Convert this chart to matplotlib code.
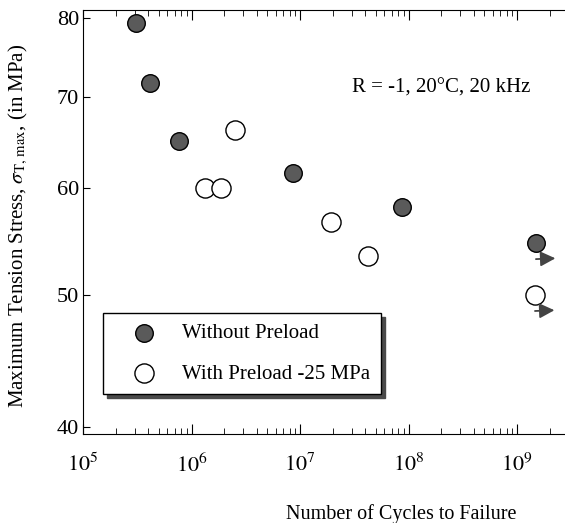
import matplotlib
matplotlib.use("Agg")
import matplotlib.pyplot as plt
from matplotlib.ticker import FixedLocator, LogLocator, NullFormatter, NullLocator
from matplotlib.transforms import offset_copy

# data
cycles_no_preload = [3.1e5, 4.1e5, 7.7e5, 8.6e6, 8.7e7, 1.5e9]
stress_no_preload = [79.3, 71.7, 64.9, 61.5, 58.1, 54.6]

cycles_preload = [2.5e6, 1.33e6, 1.87e6, 1.93e7, 4.2e7, 1.47e9]
stress_preload = [66.2, 60.0, 60.0, 56.6, 53.4, 50.0]

# runouts (no failure) marked with arrows
runout_cycles = [1.5e9, 1.47e9]
runout_stress = [54.6, 50.0]

y_ticks = [40, 50, 60, 70, 80]
x_ticks = [1e5, 1e6, 1e7, 1e8, 1e9]
x_tick_labels = ["$10^{5}$", "$10^{6}$", "$10^{7}$", "$10^{8}$", "$10^{9}$"]

plt.rcParams["font.family"] = ["Liberation Serif", "DejaVu Serif"]
plt.rcParams["mathtext.fontset"] = "stix"

fig = plt.figure(figsize=(5.65, 5.23), dpi=100)
ax = fig.add_axes([0.147, 0.170, 0.853, 0.811])

ax.scatter(cycles_no_preload, stress_no_preload, s=160, facecolor="#5a5a5a",
           edgecolor="black", linewidth=1.0, zorder=3, label="Without Preload")
ax.scatter(cycles_preload, stress_preload, s=190, facecolor="white",
           edgecolor="black", linewidth=1.0, zorder=3, label="With Preload -25 MPa")

# runout arrows
for cx, sy in zip(runout_cycles, runout_stress):
    tail = offset_copy(ax.transData, fig=fig, x=-3, y=-16, units="dots")
    head = offset_copy(ax.transData, fig=fig, x=22, y=-15, units="dots")
    ax.annotate("", xy=(cx, sy), xycoords=head, xytext=(cx, sy), textcoords=tail,
                arrowprops=dict(arrowstyle="-|>,head_length=0.9,head_width=0.45",
                                color="#444444", lw=1.3))

ax.set_xscale("log")
ax.set_yscale("log")
ax.set_xlim(1e5, 10 ** 9.442)
ax.set_ylim(39.5, 81.1)

ax.xaxis.set_major_locator(FixedLocator(x_ticks))
ax.set_xticklabels(x_tick_labels, fontsize=16)
ax.xaxis.set_minor_locator(LogLocator(base=10, subs=range(2, 10)))
ax.xaxis.set_minor_formatter(NullFormatter())

ax.yaxis.set_major_locator(FixedLocator(y_ticks))
ax.set_yticklabels([str(v) for v in y_ticks], fontsize=16)
ax.yaxis.set_minor_locator(NullLocator())

ax.tick_params(axis="x", which="both", direction="in", top=True, pad=14)
ax.tick_params(axis="x", which="major", length=7)
ax.tick_params(axis="x", which="minor", length=4)
ax.tick_params(axis="y", which="major", direction="in", length=5, pad=3)
ax.spines["right"].set_visible(False)

ax.text(0.558, 0.805, "R = -1, 20°C, 20 kHz", transform=ax.transAxes, fontsize=15)

ax.set_xlabel("Number of Cycles to Failure", fontsize=14.5)
ax.xaxis.set_label_coords(0.66, -0.165)
ax.set_ylabel(r"Maximum Tension Stress, $\sigma_{\mathrm{T,\,max}}$, (in MPa)", fontsize=15)
ax.yaxis.set_label_coords(-0.11, 0.49)

leg = ax.legend(loc="upper left", bbox_to_anchor=(0.041, 0.285), borderaxespad=0,
                fontsize=15, frameon=True, fancybox=False,
                shadow={"color": "#4a4a4a", "alpha": 1.0, "ox": 3, "oy": -3},
                labelspacing=1.0, handletextpad=0.3, borderpad=0.5,
                handlelength=3.0)
leg.get_frame().set_edgecolor("black")
leg.get_frame().set_linewidth(1.0)

fig.savefig("out.png", dpi=100)
